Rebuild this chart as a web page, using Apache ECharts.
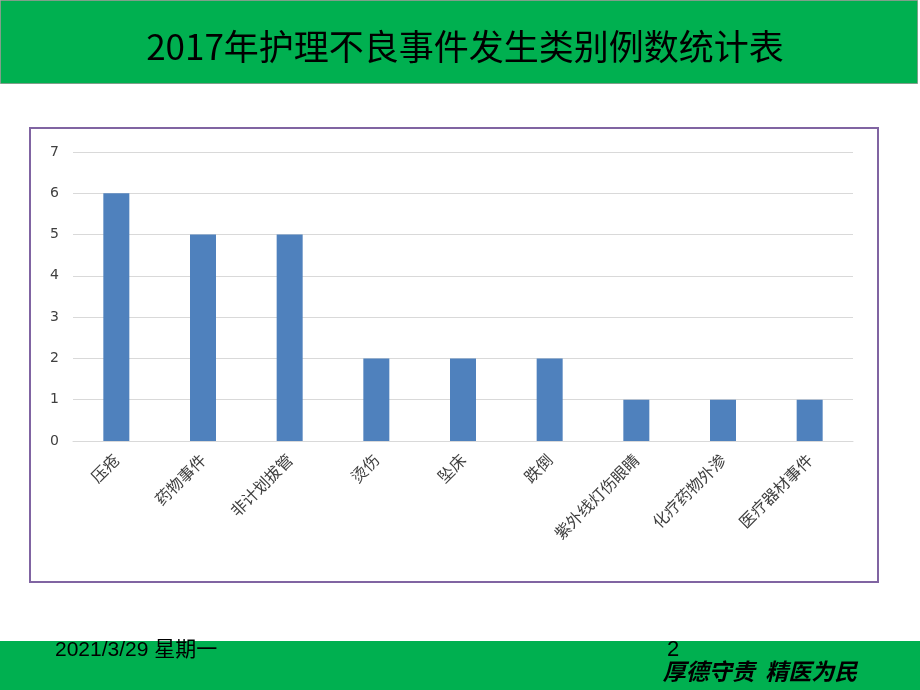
<!DOCTYPE html>
<html><head><meta charset="utf-8">
<script src="https://cdn.jsdelivr.net/npm/echarts@6/dist/echarts.min.js"></script>
<style>html,body{margin:0;padding:0;background:#fff}#c{width:920px;height:690px}</style>
</head><body><div id="c"></div>
<script>
const categories = ['压疮','药物事件','非计划拔管','烫伤','坠床','跌倒','紫外线灯伤眼睛','化疗药物外渗','医疗器材事件'];
const counts = [6,5,5,2,2,2,1,1,1];
const yTicks = [0,1,2,3,4,5,6,7];
const titleText = '2017年护理不良事件发生类别例数统计表';
const dateText = '2021/3/29 星期一';
const pageNo = '2';
const motto = '厚德守责  精医为民';

const chart = echarts.init(document.getElementById('c'));
chart.setOption({
  animation: false,
  backgroundColor: '#fff',
  grid: {left: 73, right: 67, top: 152, bottom: 249},
  xAxis: {
    type: 'category', data: categories,
    axisTick: {show: false},
    axisLine: {lineStyle: {color: '#d9d9d9', width: 1}},
    axisLabel: {rotate: 45, color: '#404040', fontSize: 16, fontFamily: 'Noto Sans CJK SC', margin: 16, interval: 0}
  },
  yAxis: {
    type: 'value', min: yTicks[0], max: yTicks[yTicks.length-1], interval: 1,
    axisLine: {show: false}, axisTick: {show: false},
    splitLine: {lineStyle: {color: '#d9d9d9'}},
    axisLabel: {color: '#404040', fontSize: 14, fontFamily: 'DejaVu Sans', margin: 14}
  },
  series: [{type: 'bar', data: counts, barWidth: '30%', itemStyle: {color: '#4F81BD'}}],
  graphic: [
    {type: 'rect', shape: {x: 0.5, y: 0.5, width: 917, height: 83}, style: {fill: '#00B050', stroke: '#7f9f8a', lineWidth: 1}, z: -1},
    {type: 'text', x: 465, y: 47, style: {text: titleText, fill: '#000', font: '35px "Noto Sans CJK SC"', align: 'center', verticalAlign: 'middle'}},
    {type: 'rect', shape: {x: 30, y: 128, width: 848, height: 454}, style: {fill: 'none', stroke: '#8064A2', lineWidth: 2}},
    {type: 'rect', shape: {x: 0, y: 641, width: 920, height: 49}, style: {fill: '#00B050'}, z: -1},
    {type: 'text', x: 55, y: 650, style: {text: dateText, fill: '#000', font: '21px "Liberation Sans Narrow","Liberation Sans","Noto Sans CJK SC"', verticalAlign: 'middle'}},
    {type: 'text', x: 667, y: 650, style: {text: pageNo, fill: '#000', font: '22px "Liberation Sans"', verticalAlign: 'middle'}},
    {type: 'text', x: 760, y: 671, style: {text: motto, fill: '#000', font: 'italic bold 23px "Noto Sans CJK SC"', align: 'center', verticalAlign: 'middle'}}
  ]
});
</script></body></html>
